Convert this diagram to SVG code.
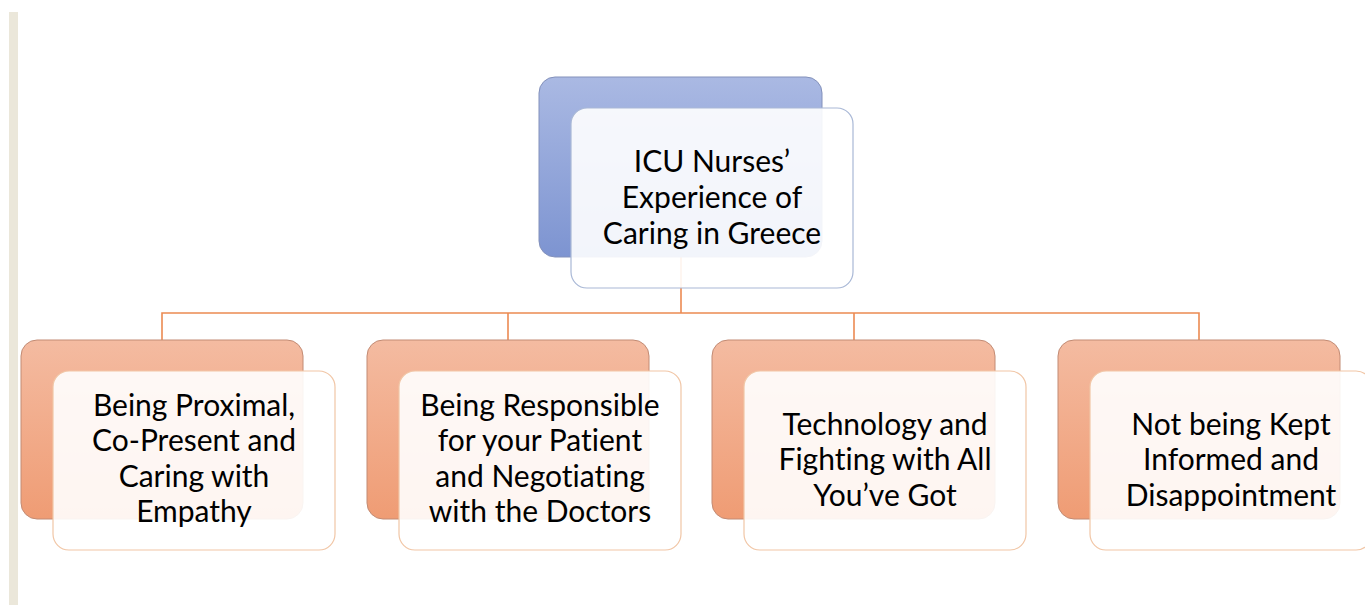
<svg xmlns="http://www.w3.org/2000/svg" width="1365" height="605" viewBox="0 0 1365 605">
  <defs>
    <linearGradient id="gBlue" x1="0" y1="0" x2="0" y2="1">
      <stop offset="0" stop-color="#aab9e3"/>
      <stop offset="1" stop-color="#7d94d1"/>
    </linearGradient>
    <linearGradient id="gOrange" x1="0" y1="0" x2="0" y2="1">
      <stop offset="0" stop-color="#f4bba1"/>
      <stop offset="1" stop-color="#ef9c74"/>
    </linearGradient>
    <style>
      .back-blue { fill: url(#gBlue); stroke: #8391bb; stroke-width: 1; }
      .front-blue { fill: #ffffff; fill-opacity: 0.9; stroke: #a9b8d6; stroke-width: 1.2; }
      .back-orange { fill: url(#gOrange); stroke: #c28b74; stroke-width: 1; }
      .front-orange { fill: #ffffff; fill-opacity: 0.9; stroke: #f1c6a6; stroke-width: 1.2; }
      .conn { fill: none; stroke: #ec8a52; stroke-width: 1.6; }
      .label { font-family: Lato, "Liberation Sans", sans-serif; font-size: 30px; fill: #000000; text-anchor: middle; font-variant-ligatures: none; }
    </style>
  </defs>

  <rect x="0" y="0" width="1365" height="605" fill="#ffffff"/>
  <!-- side rule -->
  <rect x="9" y="12" width="9" height="593" fill="#ebe7da"/>

  <!-- tree connectors -->
  <g id="connectors">
    <path class="conn" d="M681 257 V313"/>
    <path class="conn" d="M162 340 V313 H1199 V340"/>
    <path class="conn" d="M508 313 V340"/>
    <path class="conn" d="M854 313 V340"/>
  </g>

  <g id="root">
    <rect class="back-blue" x="539" y="77" width="283" height="180" rx="16"/>
    <rect class="front-blue" x="571" y="108" width="282" height="180" rx="16"/>
    <text class="label" x="712" y="172">ICU Nurses’</text>
    <text class="label" x="712" y="208">Experience of</text>
    <text class="label" x="712" y="244">Caring in Greece</text>
  </g>

  <g id="theme1">
    <rect class="back-orange" x="21" y="340" width="282" height="179" rx="16"/>
    <rect class="front-orange" x="53" y="371" width="282" height="179" rx="16"/>
    <text class="label" x="194" y="416">Being Proximal,</text>
    <text class="label" x="194" y="451">Co-Present and</text>
    <text class="label" x="194" y="487">Caring with</text>
    <text class="label" x="194" y="522">Empathy</text>
  </g>

  <g id="theme2">
    <rect class="back-orange" x="367" y="340" width="282" height="179" rx="16"/>
    <rect class="front-orange" x="399" y="371" width="282" height="179" rx="16"/>
    <text class="label" x="540" y="416">Being Responsible</text>
    <text class="label" x="540" y="451">for your Patient</text>
    <text class="label" x="540" y="487">and Negotiating</text>
    <text class="label" x="540" y="522">with the Doctors</text>
  </g>

  <g id="theme3">
    <rect class="back-orange" x="712" y="340" width="283" height="179" rx="16"/>
    <rect class="front-orange" x="744" y="371" width="282" height="179" rx="16"/>
    <text class="label" x="885" y="435">Technology and</text>
    <text class="label" x="885" y="470">Fighting with All</text>
    <text class="label" x="885" y="506">You’ve Got</text>
  </g>

  <g id="theme4">
    <rect class="back-orange" x="1058" y="340" width="282" height="179" rx="16"/>
    <rect class="front-orange" x="1090" y="371" width="282" height="179" rx="16"/>
    <text class="label" x="1231" y="435">Not being Kept</text>
    <text class="label" x="1231" y="470">Informed and</text>
    <text class="label" x="1231" y="506">Disappointment</text>
  </g>
</svg>
